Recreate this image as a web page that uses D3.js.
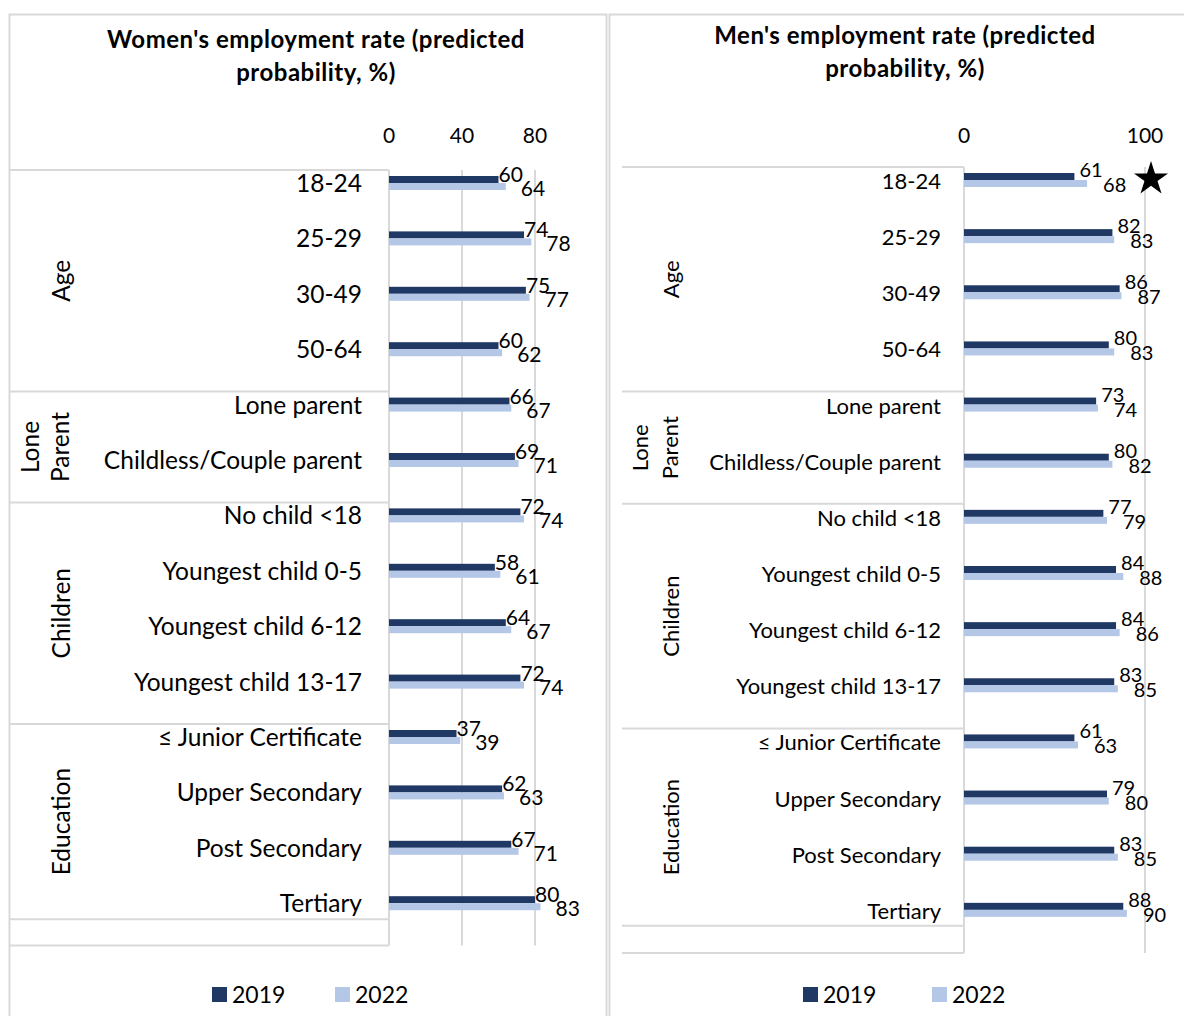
<!DOCTYPE html>
<html>
<head>
    <meta charset="UTF-8">
    <script src="https://cdn.jsdelivr.net/npm/d3@7/dist/d3.min.js"></script>
    <style>
        body { margin: 0; background: #fff; }
        text { font-family: Lato, "Open Sans", sans-serif; fill: #000; }
    </style>
</head>
<body>
<div id="chart"></div>
<script>
    // categories (same for both panels)
    var categories = ["18-24", "25-29", "30-49", "50-64",
        "Lone parent", "Childless/Couple parent",
        "No child <18", "Youngest child 0-5", "Youngest child 6-12", "Youngest child 13-17",
        "\u2264 Junior Certificate", "Upper Secondary", "Post Secondary", "Tertiary"];
    var groupNames = ["Age", "Lone Parent", "Children", "Education"];
    var groupSizes = [4, 2, 4, 4];
    var years = ["2019", "2022"];

    var women2019 = [60, 74, 75, 60, 66, 69, 72, 58, 64, 72, 37, 62, 67, 80];
    var women2022 = [64, 78, 77, 62, 67, 71, 74, 61, 67, 74, 39, 63, 71, 83];
    var men2019 = [61, 82, 86, 80, 73, 80, 77, 84, 84, 83, 61, 79, 83, 88];
    var men2022 = [68, 83, 87, 83, 74, 82, 79, 88, 86, 85, 63, 80, 85, 90];

    var womenTicks = [0, 40, 80];
    var menTicks = [0, 100];

    var colors = {"2019": "#203864", "2022": "#b4c7e7"};
    var lineCol = "#d9d9d9";

    var W = 1184, H = 1016;
    var svg = d3.select("#chart").append("svg")
        .attr("width", W).attr("height", H);

    // outer panel boxes
    svg.append("rect").attr("x", 9.5).attr("y", 14.5).attr("width", 597).attr("height", H + 10)
        .attr("fill", "none").attr("stroke", lineCol).attr("stroke-width", 2);
    svg.append("rect").attr("x", 609.5).attr("y", 14.5).attr("width", 600).attr("height", H + 10)
        .attr("fill", "none").attr("stroke", lineCol).attr("stroke-width", 2);

    function drawPanel(p) {
        var g = svg.append("g");

        var x = d3.scaleLinear().domain(p.domain).range([p.x0, p.x1]);
        var y = d3.scaleBand().domain(categories).range([p.yTop, p.yBottom]);
        var rowOff = 13; // bars sit near the top of each band, like the Excel original

        // title
        g.append("text").attr("x", p.titleX).attr("y", p.titleY)
            .attr("text-anchor", "middle").style("font-weight", "bold").style("font-size", "24px")
            .style("letter-spacing", "0.5px")
            .selectAll("tspan").data(p.title).enter().append("tspan")
            .attr("x", p.titleX).attr("dy", function(d, i) { return i ? 33 : 0; })
            .text(function(d) { return d; });

        // gridlines
        g.selectAll(".grid").data(p.ticks.slice(1)).enter().append("line")
            .attr("x1", function(d) { return x(d); }).attr("x2", function(d) { return x(d); })
            .attr("y1", p.yTop).attr("y2", p.yBottom)
            .attr("stroke", lineCol).attr("stroke-width", 2);

        // tick labels
        g.selectAll(".tick").data(p.ticks).enter().append("text")
            .attr("x", function(d) { return x(d); }).attr("y", 143)
            .attr("text-anchor", "middle").style("font-size", "21px")
            .text(function(d) { return d; });

        // category table lines
        var starts = [0];
        groupSizes.forEach(function(s, i) { starts.push(starts[i] + s); });
        var hLines = starts.slice(0, -1).map(function(s) { return y(categories[s]); });
        hLines.push(y(categories[categories.length - 1]) + rowOff * 2 + 3);
        hLines.push(p.yBottom);
        g.selectAll(".hline").data(hLines).enter().append("line")
            .attr("x1", p.tableX).attr("x2", p.x0)
            .attr("y1", function(d) { return d; }).attr("y2", function(d) { return d; })
            .attr("stroke", lineCol).attr("stroke-width", 2);
        g.append("line").attr("x1", p.x0).attr("x2", p.x0)
            .attr("y1", p.yTop).attr("y2", p.yBottom)
            .attr("stroke", lineCol).attr("stroke-width", 2);

        // group labels (rotated)
        groupNames.forEach(function(name, i) {
            var top = y(categories[starts[i]]);
            var bot = i < groupNames.length - 1 ? y(categories[starts[i + 1]]) : hLines[hLines.length - 2];
            var cy = (top + bot) / 2;
            var words = name === "Lone Parent" ? ["Lone", "Parent"] : [name];
            var gx = words.length > 1 ? p.groupX - 16 : p.groupX;
            var t = g.append("text")
                .attr("transform", "translate(" + gx + "," + cy + ") rotate(-90)")
                .attr("text-anchor", "middle").style("font-size", p.catSize + "px");
            words.forEach(function(w, j) {
                t.append("tspan").attr("x", 0)
                    .attr("y", (j - (words.length - 1) / 2) * 30 + 8)
                    .text(w);
            });
        });

        // category labels
        g.selectAll(".cat").data(categories).enter().append("text")
            .attr("x", p.labelX).attr("y", function(d) { return y(d) + rowOff + 9; })
            .attr("text-anchor", "end").style("font-size", p.catSize + "px")
            .text(function(d) { return d; });

        // bars
        var series = [p.v2019, p.v2022];
        series.forEach(function(vals, si) {
            g.selectAll(".bar" + si).data(vals).enter().append("rect")
                .attr("x", p.x0)
                .attr("y", function(d, i) { return y(categories[i]) + rowOff - 7 + si * 7; })
                .attr("width", function(d) { return x(d) - p.x0; })
                .attr("height", 7)
                .attr("fill", colors[years[si]]);

            g.selectAll(".val" + si).data(vals).enter().append("text")
                .attr("x", function(d) { return x(d) + (si ? p.dx2022 : p.dx2019); })
                .attr("y", function(d, i) { return y(categories[i]) + rowOff + (si ? p.dy2022 : p.dy2019); })
                .style("font-size", p.valSize + "px")
                .text(function(d) { return d; });
        });

        // star marker (significance note)
        if (p.star) {
            g.append("path")
                .attr("d", d3.symbol().type(d3.symbolStar).size(360)())
                .attr("transform", "translate(" + p.star[0] + "," + (y(categories[0]) + rowOff - 1) + ")")
                .attr("fill", "#000");
        }

        // legend
        var leg = g.append("g");
        years.forEach(function(yr, i) {
            var lx = p.legendX + i * p.legendGap;
            leg.append("rect").attr("x", lx).attr("y", 987).attr("width", 15).attr("height", 15)
                .attr("fill", colors[yr]);
            leg.append("text").attr("x", lx + 20).attr("y", 1003)
                .style("font-size", "23px").text(yr);
        });
    }

    drawPanel({
        title: ["Women's employment rate (predicted", "probability, %)"],
        titleX: 316, titleY: 48,
        domain: [0, 86], x0: 389, x1: 389 + 86 * 1.825,
        yTop: 170, yBottom: 945.6,
        ticks: womenTicks,
        v2019: women2019, v2022: women2022,
        tableX: 10, labelX: 362, groupX: 62, catSize: 24.5,
        valSize: 21, dx2019: 0, dx2022: 15, dy2019: -1, dy2022: 13,
        legendX: 212, legendGap: 123
    });

    drawPanel({
        title: ["Men's employment rate (predicted", "probability, %)"],
        titleX: 905, titleY: 44,
        domain: [0, 100], x0: 964, x1: 1145,
        yTop: 167, yBottom: 953,
        ticks: menTicks,
        v2019: men2019, v2022: men2022,
        tableX: 622, labelX: 941, groupX: 671, catSize: 22,
        valSize: 20, dx2019: 5, dx2022: 16, dy2019: -3, dy2022: 12,
        star: [1151],
        legendX: 803, legendGap: 129
    });
</script>
</body>
</html>
